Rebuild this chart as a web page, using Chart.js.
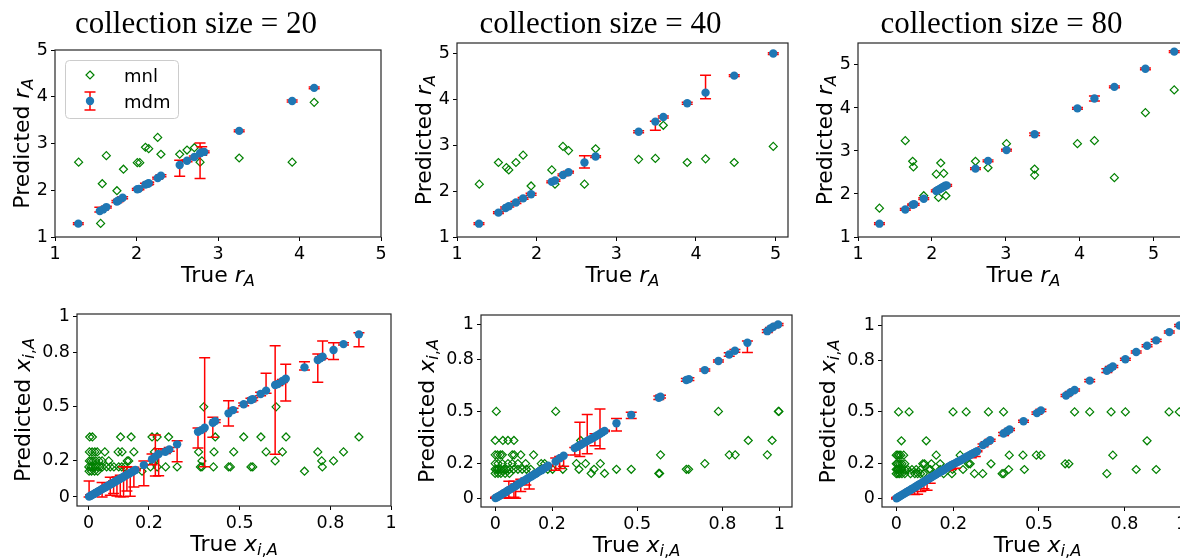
<!DOCTYPE html>
<html>
<head>
<meta charset="utf-8">
<script src="https://cdn.jsdelivr.net/npm/chart.js@4.4.0/dist/chart.umd.min.js"></script>
<style>
  html, body { margin: 0; padding: 0; background: #fff; overflow: hidden; }
  #wrap { position: relative; width: 1180px; height: 558px; overflow: hidden; }
  #wrap canvas { position: absolute; }
</style>
</head>
<body>
<div id="wrap"></div>
<script>
// ---- data ----
const titles = ['collection size = 20', 'collection size = 40', 'collection size = 80'];
const rTicks = [1, 2, 3, 4, 5];
const xTicks = [0, 0.2, 0.5, 0.8, 1];

// top row: [true r_A, predicted r_A] for mnl, [true, predicted, err down, err up] for mdm
const mnl20r = [[1.29,2.60],[1.56,1.29],[1.58,2.14],[1.63,2.74],[1.76,1.99],[1.84,2.45],[2.01,2.59],[2.04,2.59],
  [2.11,2.92],[2.15,2.89],[2.26,3.13],[2.30,2.77],[2.53,2.77],[2.62,2.86],[2.71,2.91],[2.78,2.60],[3.26,2.69],[3.91,2.60],[4.18,3.88]];
const mdm20r = [[1.286,1.286,0.02,0.02],[1.55,1.557,0.02,0.08],[1.59,1.59,0.02,0.02],[1.63,1.64,0.02,0.02],
  [1.76,1.76,0.02,0.02],[1.78,1.78,0.02,0.02],[1.83,1.84,0.02,0.02],[2.01,2.02,0.02,0.02],[2.03,2.03,0.02,0.02],
  [2.11,2.12,0.03,0.03],[2.14,2.14,0.03,0.03],[2.15,2.15,0.02,0.02],[2.26,2.26,0.02,0.02],[2.30,2.31,0.02,0.02],
  [2.53,2.54,0.24,0.10],[2.62,2.63,0.02,0.02],[2.71,2.71,0.02,0.02],[2.78,2.79,0.54,0.22],[2.80,2.81,0.06,0.12],
  [2.83,2.82,0.02,0.02],[3.26,3.27,0.02,0.02],[3.91,3.91,0.02,0.02],[4.18,4.19,0.02,0.02]];

const mnl40r = [[1.28,2.15],[1.52,2.62],[1.62,2.51],[1.65,2.46],[1.74,2.62],[1.83,2.78],[1.93,2.11],[2.19,2.46],
  [2.23,2.15],[2.33,2.97],[2.40,2.88],[2.60,2.15],[2.74,2.92],[3.28,2.69],[3.49,2.71],[3.59,3.43],[3.89,2.62],
  [4.12,2.70],[4.48,2.62],[4.97,2.97]];
const mdm40r = [[1.276,1.29,0.02,0.02],[1.52,1.53,0.02,0.02],[1.61,1.63,0.02,0.02],[1.65,1.67,0.02,0.02],
  [1.74,1.75,0.02,0.02],[1.83,1.84,0.02,0.02],[1.93,1.93,0.02,0.02],[2.19,2.20,0.02,0.02],[2.23,2.23,0.02,0.02],
  [2.33,2.35,0.02,0.02],[2.40,2.41,0.02,0.02],[2.60,2.62,0.12,0.15],[2.74,2.75,0.02,0.02],[3.28,3.29,0.02,0.02],
  [3.49,3.51,0.19,0.01],[3.59,3.61,0.02,0.02],[3.89,3.91,0.02,0.02],[4.12,4.14,0.13,0.38],[4.48,4.51,0.02,0.02],
  [4.97,4.99,0.02,0.02]];

const mnl80r = [[1.29,1.67],[1.64,3.24],[1.74,2.76],[1.75,2.63],[1.89,1.96],[2.06,2.46],[2.09,1.92],[2.12,2.72],
  [2.16,2.48],[2.19,1.96],[2.59,2.76],[2.76,2.61],[3.01,3.17],[3.39,2.58],[3.39,2.44],[3.97,3.17],[4.20,3.24],
  [4.47,2.38],[4.89,3.89],[5.28,4.42]];
const mdm80r = [[1.29,1.31,0.02,0.02],[1.64,1.64,0.02,0.02],[1.74,1.75,0.02,0.02],[1.76,1.76,0.02,0.02],
  [1.89,1.89,0.02,0.02],[2.06,2.07,0.02,0.02],[2.08,2.09,0.02,0.02],[2.10,2.11,0.02,0.02],[2.12,2.13,0.02,0.02],
  [2.14,2.15,0.02,0.02],[2.16,2.17,0.02,0.02],[2.18,2.19,0.02,0.02],[2.20,2.20,0.02,0.02],[2.59,2.59,0.02,0.02],
  [2.76,2.77,0.02,0.02],[3.01,3.02,0.02,0.02],[3.39,3.39,0.03,0.03],[3.97,3.99,0.02,0.02],[4.20,4.22,0.06,0.06],
  [4.47,4.49,0.02,0.02],[4.89,4.91,0.02,0.02],[5.28,5.31,0.02,0.02]];

// bottom row: mnl predicts one of a few shares; x values listed per predicted level
const mnlLevels = [0.5, 0.333, 0.25, 0.2, 0.167, 0.143];
const mnl20xRows = [
  [0.381,0.620],
  [0.004,0.013,0.106,0.141,0.210,0.227,0.265,0.419,0.513,0.570,0.653,0.894],
  [0.003,0.012,0.021,0.029,0.054,0.098,0.111,0.150,0.218,0.364,0.415,0.480,0.587,0.641,0.758,0.843],
  [0.003,0.009,0.016,0.024,0.035,0.045,0.067,0.128,0.133,0.216,0.375,0.617,0.771,0.810],
  [0.001,0.008,0.014,0.022,0.030,0.038,0.046,0.060,0.072,0.084,0.100,0.110,0.120,0.205,0.227,0.255,0.293,0.370,0.375,0.413,0.463,0.469,0.537,0.543,0.773],
  [0.002,0.010,0.020,0.030,0.177,0.714]
];
const mnl40xRows = [
  [0.004,0.213,0.786,0.997,0.999],
  [0.000,0.027,0.045,0.066,0.301,0.891,0.975],
  [0.000,0.008,0.018,0.025,0.060,0.067,0.090,0.135,0.582,0.824,0.845,0.958],
  [0.000,0.010,0.025,0.045,0.060,0.080,0.107,0.162,0.174,0.286,0.318,0.370,0.738],
  [0.000,0.006,0.012,0.020,0.030,0.040,0.050,0.065,0.080,0.095,0.110,0.125,0.160,0.185,0.202,0.238,0.295,0.348,0.427,0.479,0.673,0.681],
  [0.000,0.010,0.020,0.035,0.050,0.338,0.385,0.576,0.579]
];
const mnl80xRows = [
  [0.008,0.045,0.199,0.245,0.323,0.376,0.625,0.678,0.753,0.803,0.956,0.992],
  [0.018,0.105,0.879],
  [0.000,0.005,0.010,0.016,0.026,0.140,0.224,0.396,0.444,0.491,0.507,0.759],
  [0.000,0.005,0.012,0.020,0.030,0.093,0.099,0.123,0.154,0.253,0.259,0.332,0.592,0.605],
  [0.000,0.004,0.008,0.014,0.020,0.030,0.040,0.055,0.070,0.085,0.115,0.120,0.154,0.197,0.234,0.394,0.449,0.841,0.911],
  [0.000,0.006,0.012,0.020,0.030,0.050,0.065,0.075,0.085,0.095,0.166,0.195,0.274,0.303,0.371,0.377,0.738]
];

// [true x, predicted x, err down, err up]
const mdm20x = [
  [0.002,0.002,0.002,0.087],[0.007,0.007,0.005,0.005],[0.012,0.011,0.005,0.005],[0.018,0.017,0.005,0.005],
  [0.023,0.022,0.005,0.005],[0.029,0.028,0.005,0.005],[0.034,0.033,0.005,0.005],[0.040,0.038,0.005,0.005],
  [0.045,0.044,0.044,0.036],[0.051,0.049,0.005,0.005],[0.056,0.054,0.005,0.005],[0.061,0.059,0.005,0.005],
  [0.067,0.065,0.005,0.005],[0.072,0.070,0.060,0.040],[0.078,0.075,0.005,0.005],[0.083,0.080,0.060,0.010],
  [0.089,0.086,0.005,0.005],[0.094,0.091,0.085,0.020],[0.100,0.097,0.005,0.005],[0.105,0.101,0.100,0.020],
  [0.111,0.107,0.005,0.005],[0.116,0.112,0.110,0.056],[0.121,0.117,0.005,0.005],[0.127,0.123,0.090,0.045],
  [0.133,0.128,0.005,0.005],[0.138,0.134,0.130,0.005],[0.144,0.139,0.005,0.005],[0.150,0.145,0.090,0.020],
  [0.155,0.150,0.005,0.005],
  [0.183,0.177,0.114,0.023],[0.210,0.209,0.030,0.030],[0.221,0.224,0.108,0.120],[0.232,0.238,0.120,0.030],
  [0.254,0.251,0.010,0.010],[0.267,0.264,0.010,0.010],[0.293,0.292,0.096,0.020],[0.362,0.362,0.090,0.020],
  [0.373,0.371,0.008,0.008],[0.384,0.384,0.216,0.389],[0.411,0.412,0.080,0.030],[0.419,0.421,0.008,0.008],
  [0.463,0.464,0.070,0.070],[0.478,0.482,0.010,0.010],[0.513,0.514,0.008,0.008],[0.537,0.538,0.010,0.010],
  [0.543,0.543,0.008,0.008],[0.569,0.571,0.010,0.010],[0.587,0.590,0.015,0.096],[0.617,0.621,0.384,0.218],
  [0.626,0.627,0.008,0.008],[0.641,0.643,0.008,0.008],[0.652,0.656,0.124,0.080],[0.714,0.719,0.015,0.031],
  [0.758,0.760,0.124,0.033],[0.766,0.769,0.008,0.008],[0.774,0.778,0.010,0.087],[0.810,0.815,0.052,0.041],
  [0.843,0.848,0.005,0.008],[0.894,0.902,0.068,0.009]
];
const mdm40x = [
  [0.001,0.002,0.002,0.004],[0.006,0.006,0.004,0.004],[0.012,0.012,0.004,0.004],[0.018,0.017,0.004,0.004],
  [0.024,0.024,0.004,0.004],[0.030,0.030,0.004,0.004],[0.036,0.035,0.030,0.000],[0.042,0.042,0.004,0.004],
  [0.048,0.048,0.048,0.050],[0.054,0.053,0.004,0.004],[0.060,0.060,0.004,0.004],[0.066,0.066,0.060,0.032],
  [0.072,0.071,0.070,0.012],[0.078,0.078,0.004,0.004],[0.084,0.084,0.004,0.004],[0.090,0.089,0.050,0.020],
  [0.096,0.096,0.004,0.004],[0.102,0.102,0.004,0.004],[0.108,0.107,0.030,0.010],[0.114,0.114,0.004,0.004],
  [0.120,0.120,0.066,0.004],[0.127,0.126,0.004,0.004],[0.133,0.133,0.004,0.004],[0.139,0.139,0.004,0.004],
  [0.145,0.144,0.004,0.004],[0.151,0.151,0.004,0.004],[0.157,0.157,0.004,0.004],[0.163,0.162,0.004,0.004],
  [0.169,0.169,0.004,0.004],[0.175,0.175,0.004,0.004],[0.181,0.181,0.004,0.004],[0.186,0.187,0.004,0.004],
  [0.213,0.212,0.050,0.020],[0.227,0.231,0.060,0.010],[0.241,0.245,0.060,0.004],
  [0.280,0.289,0.040,0.004],[0.289,0.297,0.004,0.004],[0.298,0.305,0.064,0.133],[0.306,0.313,0.004,0.004],
  [0.315,0.321,0.004,0.004],[0.324,0.330,0.074,0.152],[0.333,0.338,0.004,0.004],[0.342,0.346,0.004,0.004],
  [0.351,0.354,0.052,0.017],[0.360,0.363,0.004,0.004],[0.369,0.372,0.087,0.142],[0.377,0.380,0.004,0.004],
  [0.385,0.388,0.004,0.004],
  [0.427,0.432,0.044,0.027],[0.479,0.480,0.020,0.015],[0.576,0.579,0.010,0.010],[0.582,0.585,0.008,0.008],
  [0.673,0.681,0.008,0.008],[0.682,0.686,0.008,0.008],[0.738,0.738,0.006,0.006],[0.786,0.790,0.006,0.006],
  [0.824,0.828,0.010,0.010],[0.844,0.849,0.008,0.008],[0.888,0.895,0.056,0.010],[0.958,0.962,0.008,0.008],
  [0.969,0.977,0.006,0.006],[0.979,0.987,0.006,0.006],[0.996,1.000,0.006,0.006]
];
const mdm80x = [
  [0.001,0.001,0.004,0.004],[0.006,0.006,0.004,0.004],[0.011,0.011,0.004,0.004],[0.016,0.016,0.004,0.004],
  [0.021,0.021,0.004,0.004],[0.027,0.026,0.004,0.004],[0.032,0.032,0.004,0.004],[0.037,0.037,0.004,0.004],
  [0.042,0.042,0.004,0.004],[0.048,0.047,0.004,0.004],[0.053,0.053,0.004,0.004],[0.058,0.058,0.004,0.004],
  [0.064,0.063,0.040,0.004],[0.069,0.069,0.004,0.004],[0.075,0.074,0.050,0.004],[0.080,0.080,0.004,0.004],
  [0.086,0.085,0.045,0.004],[0.091,0.091,0.004,0.004],[0.097,0.096,0.040,0.004],[0.102,0.102,0.004,0.004],
  [0.108,0.107,0.060,0.004],[0.113,0.113,0.004,0.004],[0.119,0.118,0.030,0.004],[0.124,0.124,0.004,0.004],
  [0.130,0.129,0.004,0.004],[0.136,0.135,0.004,0.004],[0.141,0.141,0.004,0.004],[0.147,0.146,0.004,0.004],
  [0.152,0.152,0.004,0.004],[0.158,0.157,0.004,0.004],[0.164,0.163,0.004,0.004],[0.170,0.169,0.004,0.004],
  [0.176,0.175,0.004,0.004],[0.182,0.181,0.020,0.004],[0.188,0.187,0.004,0.004],[0.194,0.193,0.025,0.004],
  [0.200,0.198,0.004,0.004],[0.207,0.204,0.030,0.004],[0.214,0.210,0.004,0.004],[0.221,0.216,0.004,0.004],
  [0.228,0.222,0.004,0.004],[0.235,0.229,0.004,0.004],[0.242,0.236,0.004,0.004],[0.249,0.242,0.004,0.004],
  [0.256,0.248,0.004,0.004],[0.263,0.255,0.020,0.004],[0.270,0.261,0.004,0.004],[0.277,0.267,0.025,0.004],
  [0.283,0.273,0.004,0.004],
  [0.304,0.308,0.010,0.006],[0.315,0.321,0.006,0.006],[0.329,0.336,0.006,0.006],[0.376,0.375,0.012,0.006],
  [0.388,0.388,0.006,0.006],[0.397,0.398,0.006,0.006],[0.446,0.446,0.006,0.006],[0.493,0.493,0.006,0.006],
  [0.507,0.509,0.006,0.006],[0.595,0.595,0.006,0.006],[0.610,0.612,0.006,0.006],[0.625,0.627,0.006,0.006],
  [0.678,0.681,0.006,0.006],[0.738,0.738,0.010,0.012],[0.750,0.753,0.006,0.010],[0.759,0.763,0.006,0.006],
  [0.803,0.805,0.006,0.006],[0.841,0.847,0.006,0.006],[0.879,0.883,0.006,0.006],[0.911,0.914,0.006,0.006],
  [0.957,0.962,0.006,0.006],[0.993,1.000,0.006,0.006]
];

const rowsToPoints = rows => rows.flatMap((xs, i) => xs.map(x => [x, mnlLevels[i]]));

// ---- labels ----
const rLabelX = [{t: 'True '}, {t: 'r', it: true}, {t: 'A', it: true, sub: true}];
const rLabelY = [{t: 'Predicted '}, {t: 'r', it: true}, {t: 'A', it: true, sub: true}];
const xLabelX = [{t: 'True '}, {t: 'x', it: true}, {t: 'i', it: true, sub: true}, {t: ',', sub: true}, {t: 'A', it: true, sub: true}];
const xLabelY = [{t: 'Predicted '}, {t: 'x', it: true}, {t: 'i', it: true, sub: true}, {t: ',', sub: true}, {t: 'A', it: true, sub: true}];

// ---- panel boxes (page px) ----
const panels = [
  {L: 55,  T: 50,  W: 326, H: 187, row: 0, x: [1, 5],       y: [1, 5],       ticks: rTicks, mnl: mnl20r, mdm: mdm20r, title: titles[0], legend: true},
  {L: 457, T: 43,  W: 331, H: 194, row: 0, x: [1, 5.155],   y: [1, 5.22],    ticks: rTicks, mnl: mnl40r, mdm: mdm40r, title: titles[1]},
  {L: 858, T: 43,  W: 331, H: 194, row: 0, x: [1, 5.48],    y: [1, 5.51],    ticks: rTicks, mnl: mnl80r, mdm: mdm80r, title: titles[2]},
  {L: 77,  T: 314, W: 314, H: 192, row: 1, x: [-0.038, 1],  y: [-0.05, 1.015], ticks: xTicks, mnl: rowsToPoints(mnl20xRows), mdm: mdm20x},
  {L: 481, T: 315, W: 311, H: 192, row: 1, x: [-0.05, 1.045], y: [-0.05, 1.055], ticks: xTicks, mnl: rowsToPoints(mnl40xRows), mdm: mdm40x},
  {L: 882, T: 316, W: 311, H: 191, row: 1, x: [-0.05, 1.04],  y: [-0.05, 1.055], ticks: xTicks, mnl: rowsToPoints(mnl80xRows), mdm: mdm80x}
];

const FONT = '"DejaVu Sans"';
const BLUE = '#1f77b4', GREEN = '#008000', RED = '#ff0000';

function drawMath(ctx, parts, x, y, size) {
  const sub = size * 0.74;
  const fontOf = p => (p.it ? 'italic ' : '') + (p.sub ? sub : size) + 'px ' + FONT;
  let w = 0;
  parts.forEach(p => { ctx.font = fontOf(p); w += ctx.measureText(p.t).width; });
  let cx = x - w / 2;
  ctx.textAlign = 'left';
  ctx.textBaseline = 'alphabetic';
  parts.forEach(p => {
    ctx.font = fontOf(p);
    ctx.fillText(p.t, cx, y + (p.sub ? size * 0.2 : 0));
    cx += ctx.measureText(p.t).width;
  });
}

function diamond(ctx, x, y, r) {
  ctx.beginPath();
  ctx.moveTo(x, y - r); ctx.lineTo(x + r, y); ctx.lineTo(x, y + r); ctx.lineTo(x - r, y); ctx.closePath();
  ctx.strokeStyle = GREEN; ctx.lineWidth = 1.2; ctx.stroke();
}

function errorSymbol(ctx, x, top, bot, cap) {
  ctx.beginPath();
  ctx.moveTo(x, top); ctx.lineTo(x, bot);
  ctx.moveTo(x - cap, top); ctx.lineTo(x + cap, top);
  ctx.moveTo(x - cap, bot); ctx.lineTo(x + cap, bot);
  ctx.strokeStyle = RED; ctx.lineWidth = 1.5; ctx.stroke();
}

const errorBars = {
  id: 'errorBars',
  beforeDatasetDraw(chart, args) {
    const ds = chart.data.datasets[args.index];
    if (!ds.errUp) return;
    const {ctx, chartArea: a, scales: {x, y}} = chart;
    ctx.save();
    ctx.beginPath();
    ctx.rect(a.left, a.top, a.right - a.left, a.bottom - a.top);
    ctx.clip();
    ds.data.forEach((p, i) => {
      const px = x.getPixelForValue(p.x);
      errorSymbol(ctx, px, y.getPixelForValue(p.y + ds.errUp[i]), y.getPixelForValue(p.y - ds.errDown[i]), 5.5);
    });
    ctx.restore();
  }
};

const decor = {
  id: 'decor',
  afterDraw(chart, args, o) {
    const {ctx, chartArea: a} = chart;
    const cxm = (a.left + a.right) / 2;
    ctx.save();
    ctx.strokeStyle = '#262626';
    ctx.lineWidth = 1.2;
    ctx.strokeRect(a.left, a.top, a.right - a.left, a.bottom - a.top);
    ctx.fillStyle = '#000';
    if (o.title) {
      ctx.font = '31px "Liberation Serif"';
      ctx.textAlign = 'center';
      ctx.textBaseline = 'alphabetic';
      ctx.fillText(o.title, cxm - 22, 33 - o.canvasTop);
    }
    drawMath(ctx, o.xlabel, cxm, a.bottom + 44.5, 22);
    ctx.save();
    ctx.translate(a.left - o.yoff, (a.top + a.bottom) / 2);
    ctx.rotate(-Math.PI / 2);
    drawMath(ctx, o.ylabel, 0, 0, 22);
    ctx.restore();
    if (o.legend) {
      const lx = a.left + 10, ly = a.top + 10;
      ctx.beginPath();
      ctx.roundRect(lx + 0.5, ly + 0.5, 113, 58, 4);
      ctx.fillStyle = 'rgba(255,255,255,0.8)';
      ctx.fill();
      ctx.strokeStyle = '#cccccc';
      ctx.lineWidth = 1;
      ctx.stroke();
      diamond(ctx, a.left + 35, a.top + 25, 4);
      errorSymbol(ctx, a.left + 35, a.top + 42, a.top + 60, 5.5);
      ctx.beginPath();
      ctx.arc(a.left + 35, a.top + 51, 4.2, 0, Math.PI * 2);
      ctx.fillStyle = BLUE;
      ctx.fill();
      ctx.fillStyle = '#000';
      ctx.font = '18px ' + FONT;
      ctx.textAlign = 'left';
      ctx.fillText('mnl', a.left + 69, a.top + 32);
      ctx.fillText('mdm', a.left + 69, a.top + 58);
    }
    ctx.restore();
  }
};

function axis(range, ticks, fit) {
  return {
    type: 'linear',
    min: range[0],
    max: range[1],
    afterFit: fit,
    afterBuildTicks: s => { s.ticks = ticks.map(v => ({value: v})); },
    ticks: {font: {family: 'DejaVu Sans', size: 17.5}, color: '#000', padding: 3, autoSkip: false, maxRotation: 0,
            callback: v => String(v)},
    grid: {drawOnChartArea: false, drawTicks: true, tickLength: 4, color: '#000', lineWidth: 1},
    border: {display: false}
  };
}

const wrap = document.getElementById('wrap');
panels.forEach(p => {
  const padL = 75, padR = 15;
  const top = p.row === 0 ? 0 : 290;
  const height = p.row === 0 ? 300 : 268;
  const padT = p.T - top;
  const padB = height - padT - p.H;
  const cv = document.createElement('canvas');
  cv.width = p.W + padL + padR;
  cv.height = height;
  cv.style.left = (p.L - padL) + 'px';
  cv.style.top = top + 'px';
  wrap.appendChild(cv);
  const isR = p.row === 0;
  new Chart(cv, {
    type: 'scatter',
    data: {
      datasets: [
        {
          label: 'mdm',
          data: p.mdm.map(d => ({x: d[0], y: d[1]})),
          errDown: p.mdm.map(d => d[2]),
          errUp: p.mdm.map(d => d[3]),
          pointStyle: 'circle', pointRadius: 4.2, backgroundColor: BLUE, borderWidth: 0, order: 0
        },
        {
          label: 'mnl',
          data: p.mnl.map(d => ({x: d[0], y: d[1]})),
          pointStyle: 'rectRot', pointRadius: 4, borderColor: GREEN, borderWidth: 1.2,
          backgroundColor: 'rgba(0,0,0,0)', order: 1
        }
      ]
    },
    options: {
      responsive: false,
      animation: false,
      events: [],
      layout: {padding: {left: 0, top: padT, right: padR, bottom: 0}},
      plugins: {
        legend: {display: false},
        tooltip: {enabled: false},
        decor: {
          title: p.title, canvasTop: top, legend: !!p.legend,
          xlabel: isR ? rLabelX : xLabelX, ylabel: isR ? rLabelY : xLabelY,
          yoff: isR ? 26 : 47
        }
      },
      scales: {
        x: axis(p.x, p.ticks, s => { s.height = padB; }),
        y: axis(p.y, p.ticks, s => { s.width = padL; })
      }
    },
    plugins: [errorBars, decor]
  });
});
</script>
</body>
</html>
